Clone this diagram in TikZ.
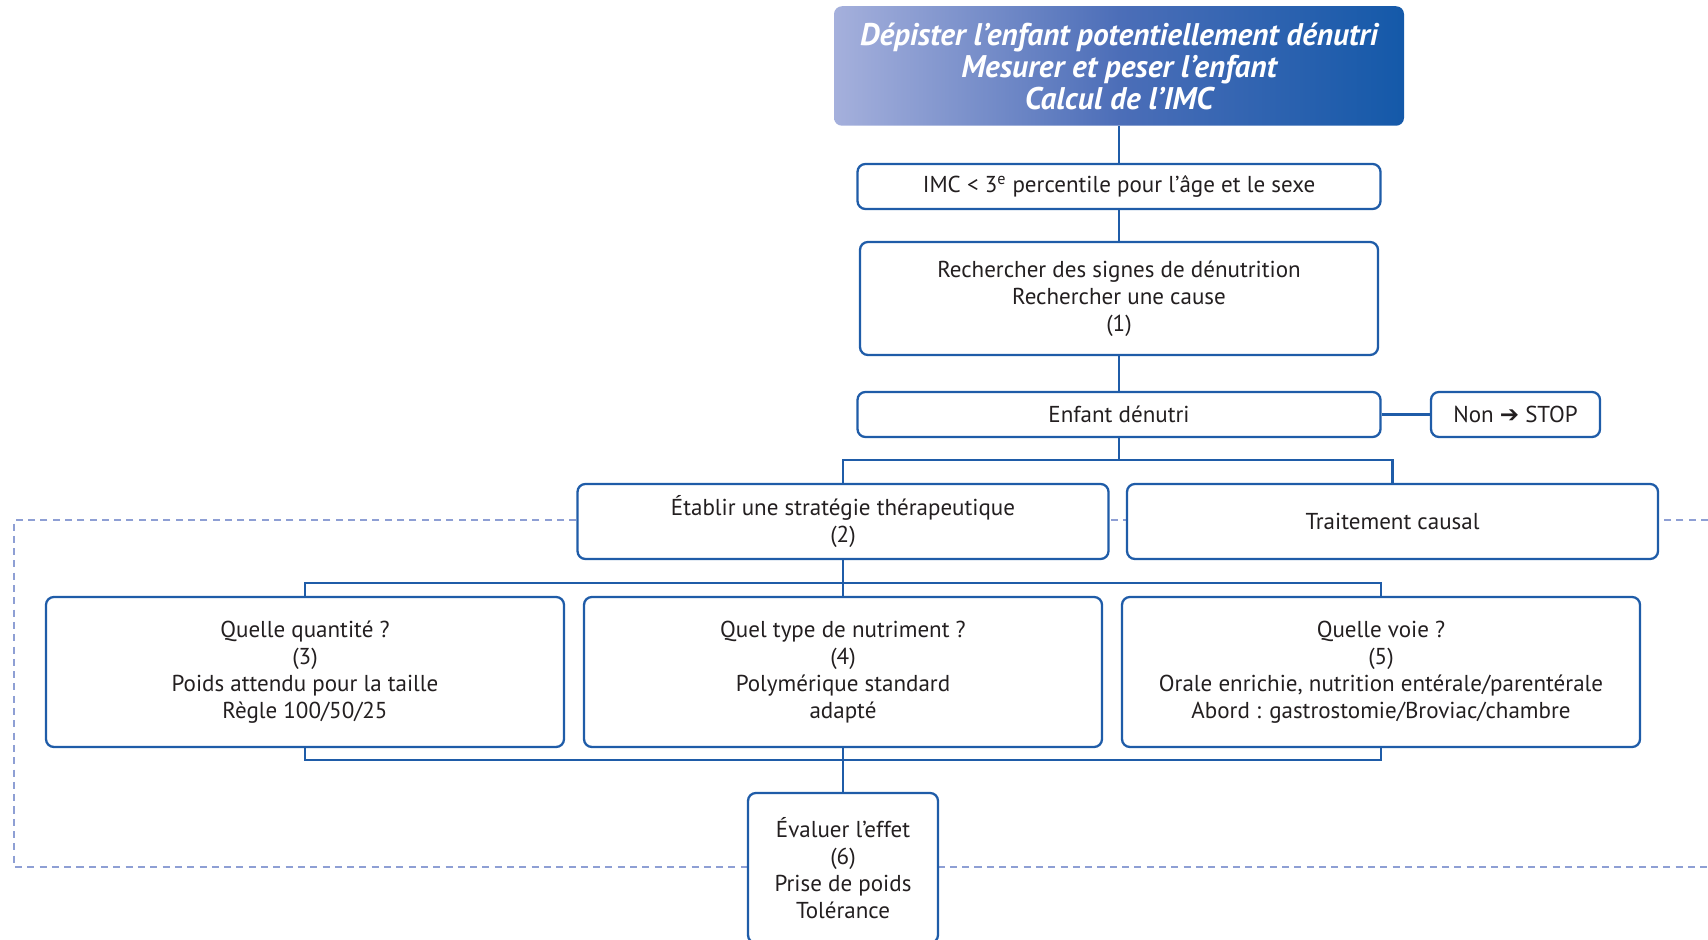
\documentclass[tikz,border=0pt]{standalone}
\usepackage{fontspec}
\setmainfont{PT Sans}
\newfontfamily\arrfont{DejaVu Sans}
\usepackage{xcolor}
\definecolor{boxblue}{HTML}{1F5CA8}
\definecolor{lightblue}{HTML}{A5B0DC}
\definecolor{midblue}{HTML}{4C6EB8}
\definecolor{darkblue}{HTML}{1459A9}
\definecolor{dashblue}{HTML}{8E9FD4}
\definecolor{ink}{HTML}{231F20}

\begin{document}
\begin{tikzpicture}[
    box/.style={draw=boxblue, line width=1.3pt, fill=white, rounded corners=4.5pt,
      align=center, inner sep=0pt, text=ink, font=\fontsize{13.1}{15.3}\selectfont},
    link/.style={draw=boxblue, line width=1.2pt}]
  \useasboundingbox (0,0) rectangle (34.16,18.80);

  % loop back frame
  \draw [dashblue, line width=0.9pt, dash pattern=on 4pt off 3pt]
    (34.16,8.40) -- (0.28,8.40) -- (0.28,1.46) -- (34.16,1.46);

  \node [rounded corners=4.5pt, align=center, inner sep=0pt, text=white,
    left color=lightblue, right color=darkblue, middle color=midblue,
    minimum width=11.4cm, minimum height=2.39cm,
    font=\fontsize{17.8}{18.2}\selectfont\bfseries\itshape] (depist) at (22.38,17.48)
    {Dépister l’enfant potentiellement dénutri\\Mesurer et peser l’enfant\\Calcul de l’IMC};
  \node [box, minimum width=10.46cm, minimum height=0.9cm] (imc) at (22.38,15.07)
    {IMC < 3\textsuperscript{e} percentile pour l’âge et le sexe};
  \node [box, minimum width=10.36cm, minimum height=2.26cm] (recherche) at (22.38,12.83)
    {Rechercher des signes de dénutrition\\Rechercher une cause\\(1)};
  \node [box, minimum width=10.46cm, minimum height=0.9cm] (enfant) at (22.38,10.51)
    {Enfant dénutri};
  \node [box, minimum width=3.38cm, minimum height=0.9cm] (stop) at (30.31,10.51)
    {Non {\arrfont ➔} STOP};

  \node [box, minimum width=10.62cm, minimum height=1.5cm] (etablir) at (16.86,8.37)
    {Établir une stratégie thérapeutique\\(2)};
  \node [box, minimum width=10.62cm, minimum height=1.5cm] (causal) at (27.85,8.37)
    {Traitement causal};

  \node [box, minimum width=10.36cm, minimum height=3cm] (quantite) at (6.10,5.36)
    {Quelle quantité ?\\(3)\\Poids attendu pour la taille\\Règle 100/50/25};
  \node [box, minimum width=10.36cm, minimum height=3cm] (nutriment) at (16.86,5.36)
    {Quel type de nutriment ?\\(4)\\Polymérique standard\\adapté};
  \node [box, minimum width=10.36cm, minimum height=3cm] (voie) at (27.62,5.36)
    {Quelle voie ?\\(5)\\Orale enrichie, nutrition entérale/parentérale\\Abord : gastrostomie/Broviac/chambre};

  \node [box, minimum width=3.8cm, minimum height=3cm] (evaluer) at (16.86,1.44)
    {Évaluer l’effet\\(6)\\Prise de poids\\Tolérance};

  \coordinate (fork1) at (22.38,9.60);
  \coordinate (fork2) at (16.86,7.14);
  \coordinate (merge) at (16.86,3.60);

  \draw [link] (depist) -- (imc);
  \draw [link] (imc) -- (recherche);
  \draw [link] (recherche) -- (enfant);
  \draw [link] (enfant) -- (stop);
  \draw [link] (enfant) -- (fork1);
  \draw [link] (etablir.north) |- (fork1) -| (causal.north);
  \draw [link] (etablir) -- (nutriment);
  \draw [link] (quantite.north) |- (fork2) -| (voie.north);
  \draw [link] (quantite.south) |- (merge) -| (voie.south);
  \draw [link] (nutriment) -- (evaluer);
\end{tikzpicture}
\end{document}
